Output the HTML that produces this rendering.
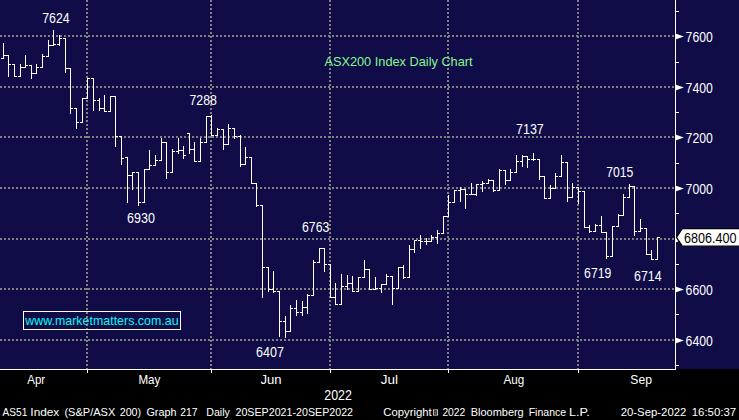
<!DOCTYPE html>
<html><head><meta charset="utf-8"><title>ASX200 Index Daily Chart</title>
<style>
html,body{margin:0;padding:0;background:#000;}
body{width:739px;height:420px;overflow:hidden;position:relative;font-family:"Liberation Sans",sans-serif;}
svg{position:absolute;left:0;top:0;display:block;}
text{font-family:"Liberation Sans",sans-serif;fill:#fff;}
.ax{font-size:14px;}
.mo{font-size:13.5px;}
.ft{font-size:11.6px;}
.ti{font-size:13px;}
.wm{font-size:12.6px;}
.cp{font-size:8.5px;}
</style></head><body>
<svg width="739" height="420" viewBox="0 0 739 420">
<rect x="0" y="0" width="739" height="420" fill="#000"/>
<rect x="0" y="0" width="739" height="369" fill="#0f0c48"/>
<g stroke="#82807e" stroke-width="2" stroke-dasharray="2 2" shape-rendering="crispEdges"><line x1="0" y1="36" x2="675" y2="36"/><line x1="0" y1="87" x2="675" y2="87"/><line x1="0" y1="137" x2="675" y2="137"/><line x1="0" y1="188" x2="675" y2="188"/><line x1="0" y1="239" x2="675" y2="239"/><line x1="0" y1="289" x2="675" y2="289"/><line x1="0" y1="340" x2="675" y2="340"/><line x1="87" y1="0" x2="87" y2="369"/><line x1="211" y1="0" x2="211" y2="369"/><line x1="330" y1="0" x2="330" y2="369"/><line x1="448" y1="0" x2="448" y2="369"/><line x1="578" y1="0" x2="578" y2="369"/></g>
<g fill="#fff" shape-rendering="crispEdges"><rect x="675" y="0" width="1" height="370"/><rect x="0" y="369" width="676" height="1"/><rect x="87" y="370" width="1" height="3"/><rect x="211" y="370" width="1" height="3"/><rect x="330" y="370" width="1" height="3"/><rect x="448" y="370" width="1" height="3"/><rect x="578" y="370" width="1" height="3"/><rect x="676" y="11" width="3" height="1"/><rect x="676" y="62" width="3" height="1"/><rect x="676" y="112" width="3" height="1"/><rect x="676" y="163" width="3" height="1"/><rect x="676" y="213" width="3" height="1"/><rect x="676" y="264" width="3" height="1"/><rect x="676" y="314" width="3" height="1"/><rect x="676" y="365" width="3" height="1"/></g>
<g fill="#fff" shape-rendering="crispEdges"><rect x="3" y="43" width="1" height="16"/><rect x="4" y="55" width="2" height="1"/><rect x="1" y="58" width="2" height="1"/><rect x="8" y="55" width="1" height="22"/><rect x="9" y="64" width="2" height="1"/><rect x="6" y="55" width="2" height="1"/><rect x="14" y="64" width="1" height="13"/><rect x="15" y="76" width="2" height="1"/><rect x="12" y="64" width="2" height="1"/><rect x="20" y="64" width="1" height="13"/><rect x="21" y="67" width="2" height="1"/><rect x="18" y="76" width="2" height="1"/><rect x="25" y="55" width="1" height="13"/><rect x="26" y="65" width="2" height="1"/><rect x="23" y="67" width="2" height="1"/><rect x="31" y="65" width="1" height="14"/><rect x="32" y="73" width="2" height="1"/><rect x="29" y="65" width="2" height="1"/><rect x="36" y="64" width="1" height="10"/><rect x="37" y="67" width="2" height="1"/><rect x="34" y="73" width="2" height="1"/><rect x="42" y="54" width="1" height="14"/><rect x="43" y="56" width="2" height="1"/><rect x="40" y="67" width="2" height="1"/><rect x="48" y="40" width="1" height="17"/><rect x="49" y="45" width="2" height="1"/><rect x="46" y="56" width="2" height="1"/><rect x="53" y="30" width="1" height="16"/><rect x="54" y="44" width="2" height="1"/><rect x="51" y="45" width="2" height="1"/><rect x="59" y="35" width="1" height="11"/><rect x="60" y="38" width="2" height="1"/><rect x="57" y="44" width="2" height="1"/><rect x="65" y="38" width="1" height="35"/><rect x="66" y="68" width="2" height="1"/><rect x="63" y="38" width="2" height="1"/><rect x="70" y="68" width="1" height="46"/><rect x="71" y="108" width="2" height="1"/><rect x="68" y="68" width="2" height="1"/><rect x="76" y="108" width="1" height="21"/><rect x="77" y="122" width="2" height="1"/><rect x="74" y="108" width="2" height="1"/><rect x="82" y="98" width="1" height="25"/><rect x="83" y="98" width="2" height="1"/><rect x="80" y="122" width="2" height="1"/><rect x="87" y="78" width="1" height="21"/><rect x="88" y="78" width="2" height="1"/><rect x="85" y="98" width="2" height="1"/><rect x="93" y="78" width="1" height="33"/><rect x="94" y="100" width="2" height="1"/><rect x="91" y="78" width="2" height="1"/><rect x="99" y="98" width="1" height="13"/><rect x="100" y="108" width="2" height="1"/><rect x="97" y="100" width="2" height="1"/><rect x="104" y="95" width="1" height="17"/><rect x="105" y="111" width="2" height="1"/><rect x="102" y="108" width="2" height="1"/><rect x="110" y="96" width="1" height="16"/><rect x="111" y="96" width="2" height="1"/><rect x="108" y="111" width="2" height="1"/><rect x="115" y="96" width="1" height="51"/><rect x="116" y="136" width="2" height="1"/><rect x="113" y="96" width="2" height="1"/><rect x="121" y="136" width="1" height="29"/><rect x="122" y="158" width="2" height="1"/><rect x="119" y="136" width="2" height="1"/><rect x="127" y="157" width="1" height="46"/><rect x="128" y="175" width="2" height="1"/><rect x="125" y="157" width="2" height="1"/><rect x="132" y="172" width="1" height="18"/><rect x="133" y="172" width="2" height="1"/><rect x="130" y="175" width="2" height="1"/><rect x="138" y="172" width="1" height="34"/><rect x="139" y="202" width="2" height="1"/><rect x="136" y="172" width="2" height="1"/><rect x="144" y="169" width="1" height="34"/><rect x="145" y="169" width="2" height="1"/><rect x="142" y="202" width="2" height="1"/><rect x="149" y="150" width="1" height="20"/><rect x="150" y="165" width="2" height="1"/><rect x="147" y="169" width="2" height="1"/><rect x="155" y="155" width="1" height="11"/><rect x="156" y="160" width="2" height="1"/><rect x="153" y="165" width="2" height="1"/><rect x="161" y="138" width="1" height="23"/><rect x="162" y="142" width="2" height="1"/><rect x="159" y="160" width="2" height="1"/><rect x="166" y="142" width="1" height="37"/><rect x="167" y="172" width="2" height="1"/><rect x="164" y="142" width="2" height="1"/><rect x="172" y="149" width="1" height="24"/><rect x="173" y="151" width="2" height="1"/><rect x="170" y="172" width="2" height="1"/><rect x="178" y="138" width="1" height="16"/><rect x="179" y="150" width="2" height="1"/><rect x="176" y="151" width="2" height="1"/><rect x="183" y="146" width="1" height="13"/><rect x="184" y="155" width="2" height="1"/><rect x="181" y="150" width="2" height="1"/><rect x="189" y="133" width="1" height="21"/><rect x="190" y="149" width="2" height="1"/><rect x="187" y="133" width="2" height="1"/><rect x="194" y="142" width="1" height="20"/><rect x="195" y="161" width="2" height="1"/><rect x="192" y="149" width="2" height="1"/><rect x="200" y="138" width="1" height="24"/><rect x="201" y="142" width="2" height="1"/><rect x="198" y="161" width="2" height="1"/><rect x="206" y="116" width="1" height="27"/><rect x="207" y="116" width="2" height="1"/><rect x="204" y="142" width="2" height="1"/><rect x="211" y="115" width="1" height="21"/><rect x="212" y="135" width="2" height="1"/><rect x="209" y="116" width="2" height="1"/><rect x="217" y="128" width="1" height="8"/><rect x="218" y="129" width="2" height="1"/><rect x="215" y="135" width="2" height="1"/><rect x="223" y="129" width="1" height="21"/><rect x="224" y="144" width="2" height="1"/><rect x="221" y="129" width="2" height="1"/><rect x="228" y="124" width="1" height="21"/><rect x="229" y="128" width="2" height="1"/><rect x="226" y="144" width="2" height="1"/><rect x="234" y="128" width="1" height="11"/><rect x="235" y="136" width="2" height="1"/><rect x="232" y="128" width="2" height="1"/><rect x="240" y="135" width="1" height="32"/><rect x="241" y="164" width="2" height="1"/><rect x="238" y="136" width="2" height="1"/><rect x="245" y="147" width="1" height="18"/><rect x="246" y="157" width="2" height="1"/><rect x="243" y="164" width="2" height="1"/><rect x="251" y="157" width="1" height="27"/><rect x="252" y="183" width="2" height="1"/><rect x="249" y="157" width="2" height="1"/><rect x="256" y="183" width="1" height="24"/><rect x="257" y="205" width="2" height="1"/><rect x="254" y="183" width="2" height="1"/><rect x="262" y="205" width="1" height="93"/><rect x="263" y="267" width="2" height="1"/><rect x="260" y="205" width="2" height="1"/><rect x="268" y="267" width="1" height="25"/><rect x="269" y="289" width="2" height="1"/><rect x="266" y="267" width="2" height="1"/><rect x="273" y="271" width="1" height="22"/><rect x="274" y="291" width="2" height="1"/><rect x="271" y="289" width="2" height="1"/><rect x="279" y="291" width="1" height="46"/><rect x="280" y="321" width="2" height="1"/><rect x="277" y="291" width="2" height="1"/><rect x="285" y="316" width="1" height="22"/><rect x="286" y="331" width="2" height="1"/><rect x="283" y="321" width="2" height="1"/><rect x="290" y="305" width="1" height="27"/><rect x="291" y="308" width="2" height="1"/><rect x="288" y="331" width="2" height="1"/><rect x="296" y="300" width="1" height="16"/><rect x="297" y="312" width="2" height="1"/><rect x="294" y="308" width="2" height="1"/><rect x="302" y="301" width="1" height="15"/><rect x="303" y="307" width="2" height="1"/><rect x="300" y="312" width="2" height="1"/><rect x="307" y="294" width="1" height="20"/><rect x="308" y="295" width="2" height="1"/><rect x="305" y="307" width="2" height="1"/><rect x="313" y="260" width="1" height="36"/><rect x="314" y="262" width="2" height="1"/><rect x="311" y="295" width="2" height="1"/><rect x="319" y="248" width="1" height="15"/><rect x="320" y="248" width="2" height="1"/><rect x="317" y="262" width="2" height="1"/><rect x="324" y="248" width="1" height="24"/><rect x="325" y="264" width="2" height="1"/><rect x="322" y="248" width="2" height="1"/><rect x="330" y="264" width="1" height="34"/><rect x="331" y="297" width="2" height="1"/><rect x="328" y="264" width="2" height="1"/><rect x="335" y="283" width="1" height="22"/><rect x="336" y="304" width="2" height="1"/><rect x="333" y="297" width="2" height="1"/><rect x="341" y="274" width="1" height="31"/><rect x="342" y="286" width="2" height="1"/><rect x="339" y="304" width="2" height="1"/><rect x="347" y="275" width="1" height="15"/><rect x="348" y="283" width="2" height="1"/><rect x="345" y="286" width="2" height="1"/><rect x="352" y="276" width="1" height="16"/><rect x="353" y="291" width="2" height="1"/><rect x="350" y="283" width="2" height="1"/><rect x="358" y="277" width="1" height="15"/><rect x="359" y="277" width="2" height="1"/><rect x="356" y="291" width="2" height="1"/><rect x="364" y="260" width="1" height="18"/><rect x="365" y="269" width="2" height="1"/><rect x="362" y="277" width="2" height="1"/><rect x="369" y="269" width="1" height="21"/><rect x="370" y="289" width="2" height="1"/><rect x="367" y="269" width="2" height="1"/><rect x="375" y="277" width="1" height="13"/><rect x="376" y="288" width="2" height="1"/><rect x="373" y="289" width="2" height="1"/><rect x="381" y="284" width="1" height="9"/><rect x="382" y="284" width="2" height="1"/><rect x="379" y="288" width="2" height="1"/><rect x="386" y="274" width="1" height="11"/><rect x="387" y="276" width="2" height="1"/><rect x="384" y="284" width="2" height="1"/><rect x="392" y="276" width="1" height="29"/><rect x="393" y="288" width="2" height="1"/><rect x="390" y="276" width="2" height="1"/><rect x="398" y="267" width="1" height="22"/><rect x="399" y="267" width="2" height="1"/><rect x="396" y="288" width="2" height="1"/><rect x="403" y="265" width="1" height="14"/><rect x="404" y="277" width="2" height="1"/><rect x="401" y="267" width="2" height="1"/><rect x="409" y="245" width="1" height="33"/><rect x="410" y="249" width="2" height="1"/><rect x="407" y="277" width="2" height="1"/><rect x="414" y="240" width="1" height="13"/><rect x="415" y="240" width="2" height="1"/><rect x="412" y="249" width="2" height="1"/><rect x="420" y="235" width="1" height="14"/><rect x="421" y="241" width="2" height="1"/><rect x="418" y="240" width="2" height="1"/><rect x="426" y="238" width="1" height="7"/><rect x="427" y="241" width="2" height="1"/><rect x="424" y="241" width="2" height="1"/><rect x="431" y="235" width="1" height="7"/><rect x="432" y="237" width="2" height="1"/><rect x="429" y="241" width="2" height="1"/><rect x="437" y="230" width="1" height="14"/><rect x="438" y="233" width="2" height="1"/><rect x="435" y="237" width="2" height="1"/><rect x="443" y="216" width="1" height="18"/><rect x="444" y="216" width="2" height="1"/><rect x="441" y="233" width="2" height="1"/><rect x="448" y="195" width="1" height="22"/><rect x="449" y="202" width="2" height="1"/><rect x="446" y="216" width="2" height="1"/><rect x="454" y="190" width="1" height="13"/><rect x="455" y="190" width="2" height="1"/><rect x="452" y="202" width="2" height="1"/><rect x="460" y="187" width="1" height="15"/><rect x="461" y="189" width="2" height="1"/><rect x="458" y="190" width="2" height="1"/><rect x="465" y="189" width="1" height="20"/><rect x="466" y="194" width="2" height="1"/><rect x="463" y="189" width="2" height="1"/><rect x="471" y="183" width="1" height="12"/><rect x="472" y="194" width="2" height="1"/><rect x="469" y="194" width="2" height="1"/><rect x="476" y="184" width="1" height="12"/><rect x="477" y="184" width="2" height="1"/><rect x="474" y="194" width="2" height="1"/><rect x="482" y="181" width="1" height="11"/><rect x="483" y="183" width="2" height="1"/><rect x="480" y="184" width="2" height="1"/><rect x="488" y="179" width="1" height="5"/><rect x="489" y="180" width="2" height="1"/><rect x="486" y="183" width="2" height="1"/><rect x="493" y="180" width="1" height="12"/><rect x="494" y="190" width="2" height="1"/><rect x="491" y="180" width="2" height="1"/><rect x="499" y="169" width="1" height="22"/><rect x="500" y="170" width="2" height="1"/><rect x="497" y="190" width="2" height="1"/><rect x="505" y="170" width="1" height="15"/><rect x="506" y="180" width="2" height="1"/><rect x="503" y="170" width="2" height="1"/><rect x="510" y="169" width="1" height="12"/><rect x="511" y="172" width="2" height="1"/><rect x="508" y="180" width="2" height="1"/><rect x="516" y="155" width="1" height="18"/><rect x="517" y="161" width="2" height="1"/><rect x="514" y="172" width="2" height="1"/><rect x="522" y="155" width="1" height="12"/><rect x="523" y="156" width="2" height="1"/><rect x="520" y="161" width="2" height="1"/><rect x="527" y="156" width="1" height="12"/><rect x="528" y="159" width="2" height="1"/><rect x="525" y="156" width="2" height="1"/><rect x="533" y="153" width="1" height="8"/><rect x="534" y="159" width="2" height="1"/><rect x="531" y="159" width="2" height="1"/><rect x="539" y="159" width="1" height="21"/><rect x="540" y="176" width="2" height="1"/><rect x="537" y="159" width="2" height="1"/><rect x="544" y="176" width="1" height="23"/><rect x="545" y="198" width="2" height="1"/><rect x="542" y="176" width="2" height="1"/><rect x="550" y="185" width="1" height="14"/><rect x="551" y="188" width="2" height="1"/><rect x="548" y="198" width="2" height="1"/><rect x="555" y="173" width="1" height="16"/><rect x="556" y="176" width="2" height="1"/><rect x="553" y="188" width="2" height="1"/><rect x="561" y="155" width="1" height="22"/><rect x="562" y="162" width="2" height="1"/><rect x="559" y="176" width="2" height="1"/><rect x="567" y="162" width="1" height="40"/><rect x="568" y="197" width="2" height="1"/><rect x="565" y="162" width="2" height="1"/><rect x="572" y="183" width="1" height="15"/><rect x="573" y="187" width="2" height="1"/><rect x="570" y="197" width="2" height="1"/><rect x="578" y="187" width="1" height="17"/><rect x="579" y="191" width="2" height="1"/><rect x="576" y="187" width="2" height="1"/><rect x="584" y="191" width="1" height="37"/><rect x="585" y="227" width="2" height="1"/><rect x="582" y="191" width="2" height="1"/><rect x="589" y="225" width="1" height="8"/><rect x="590" y="231" width="2" height="1"/><rect x="587" y="227" width="2" height="1"/><rect x="595" y="224" width="1" height="8"/><rect x="596" y="225" width="2" height="1"/><rect x="593" y="231" width="2" height="1"/><rect x="601" y="216" width="1" height="17"/><rect x="602" y="232" width="2" height="1"/><rect x="599" y="225" width="2" height="1"/><rect x="606" y="232" width="1" height="27"/><rect x="607" y="256" width="2" height="1"/><rect x="604" y="232" width="2" height="1"/><rect x="612" y="226" width="1" height="31"/><rect x="613" y="226" width="2" height="1"/><rect x="610" y="256" width="2" height="1"/><rect x="618" y="214" width="1" height="13"/><rect x="619" y="215" width="2" height="1"/><rect x="616" y="226" width="2" height="1"/><rect x="623" y="194" width="1" height="22"/><rect x="624" y="197" width="2" height="1"/><rect x="621" y="215" width="2" height="1"/><rect x="629" y="184" width="1" height="14"/><rect x="630" y="186" width="2" height="1"/><rect x="627" y="197" width="2" height="1"/><rect x="634" y="186" width="1" height="50"/><rect x="635" y="231" width="2" height="1"/><rect x="632" y="186" width="2" height="1"/><rect x="640" y="219" width="1" height="13"/><rect x="641" y="228" width="2" height="1"/><rect x="638" y="231" width="2" height="1"/><rect x="646" y="228" width="1" height="27"/><rect x="647" y="254" width="2" height="1"/><rect x="644" y="228" width="2" height="1"/><rect x="651" y="250" width="1" height="10"/><rect x="652" y="259" width="2" height="1"/><rect x="649" y="254" width="2" height="1"/><rect x="657" y="237" width="1" height="23"/><rect x="658" y="237" width="2" height="1"/><rect x="655" y="259" width="2" height="1"/></g>
<g fill="#fff"><polygon points="675.5,236.6 683.8,239.5 675.5,242.4"/><polygon points="675.5,33.6 683.8,36.5 675.5,39.4"/><polygon points="675.5,84.6 683.8,87.5 675.5,90.4"/><polygon points="675.5,134.6 683.8,137.5 675.5,140.4"/><polygon points="675.5,185.6 683.8,188.5 675.5,191.4"/><polygon points="675.5,286.6 683.8,289.5 675.5,292.4"/><polygon points="675.5,337.6 683.8,340.5 675.5,343.4"/></g>
<text x="685.60" y="41.70" class="ax" textLength="27.21" lengthAdjust="spacingAndGlyphs">7600</text><text x="685.60" y="92.70" class="ax" textLength="27.21" lengthAdjust="spacingAndGlyphs">7400</text><text x="685.60" y="142.70" class="ax" textLength="27.21" lengthAdjust="spacingAndGlyphs">7200</text><text x="685.60" y="193.70" class="ax" textLength="27.21" lengthAdjust="spacingAndGlyphs">7000</text><text x="685.60" y="294.70" class="ax" textLength="27.21" lengthAdjust="spacingAndGlyphs">6600</text><text x="685.60" y="345.70" class="ax" textLength="27.21" lengthAdjust="spacingAndGlyphs">6400</text>
<polygon points="676.5,237.4 682.3,228.6 741,228.6 741,246.2 682.3,246.2" fill="#fff" stroke="#000" stroke-width="1.2"/><text x="684.10" y="242.90" class="ax" style="fill:#000" textLength="52.41" lengthAdjust="spacingAndGlyphs">6806.400</text>
<text x="42.20" y="22.90" class="ax" textLength="27.51" lengthAdjust="spacingAndGlyphs">7624</text><text x="189.50" y="104.90" class="ax" textLength="27.41" lengthAdjust="spacingAndGlyphs">7288</text><text x="127.10" y="222.90" class="ax" textLength="27.81" lengthAdjust="spacingAndGlyphs">6930</text><text x="302.00" y="232.00" class="ax" textLength="27.31" lengthAdjust="spacingAndGlyphs">6763</text><text x="256.10" y="357.00" class="ax" textLength="27.91" lengthAdjust="spacingAndGlyphs">6407</text><text x="516.00" y="134.00" class="ax" textLength="27.81" lengthAdjust="spacingAndGlyphs">7137</text><text x="606.20" y="176.90" class="ax" textLength="27.11" lengthAdjust="spacingAndGlyphs">7015</text><text x="584.10" y="278.10" class="ax" textLength="27.21" lengthAdjust="spacingAndGlyphs">6719</text><text x="634.00" y="281.20" class="ax" textLength="27.61" lengthAdjust="spacingAndGlyphs">6714</text>
<text x="324.40" y="65.70" class="ti" style="fill:#86f78e" textLength="148.22" lengthAdjust="spacingAndGlyphs">ASX200 Index Daily Chart</text>
<rect x="23.5" y="311.5" width="157" height="18" fill="none" stroke="#fff" stroke-width="1" shape-rendering="crispEdges"/>
<text x="25.29" y="324.80" class="wm" style="fill:#08f8f8" textLength="153.32" lengthAdjust="spacingAndGlyphs">www.marketmatters.com.au</text>
<text x="27.30" y="384.10" class="mo" textLength="17.87" lengthAdjust="spacingAndGlyphs">Apr</text><text x="138.44" y="384.10" class="mo" textLength="21.95" lengthAdjust="spacingAndGlyphs">May</text><text x="260.40" y="384.10" class="mo" textLength="21.09" lengthAdjust="spacingAndGlyphs">Jun</text><text x="380.80" y="384.10" class="mo" textLength="17.20" lengthAdjust="spacingAndGlyphs">Jul</text><text x="503.40" y="384.10" class="mo" textLength="20.74" lengthAdjust="spacingAndGlyphs">Aug</text><text x="630.30" y="384.10" class="mo" textLength="21.66" lengthAdjust="spacingAndGlyphs">Sep</text><text x="324.30" y="400.40" class="ax" textLength="27.61" lengthAdjust="spacingAndGlyphs">2022</text>
<text x="2.50" y="415.50" class="ft" textLength="24.89" lengthAdjust="spacingAndGlyphs">AS51</text><text x="30.38" y="415.50" class="ft" textLength="28.91" lengthAdjust="spacingAndGlyphs">Index</text><text x="64.40" y="415.50" class="ft" textLength="50.95" lengthAdjust="spacingAndGlyphs">(S&amp;P/ASX</text><text x="119.70" y="415.50" class="ft" textLength="21.47" lengthAdjust="spacingAndGlyphs">200)</text><text x="146.40" y="415.50" class="ft" textLength="30.02" lengthAdjust="spacingAndGlyphs">Graph</text><text x="180.30" y="415.50" class="ft" textLength="17.30" lengthAdjust="spacingAndGlyphs">217</text><text x="206.30" y="415.50" class="ft" textLength="23.61" lengthAdjust="spacingAndGlyphs">Daily</text><text x="235.50" y="415.50" class="ft" textLength="117.51" lengthAdjust="spacingAndGlyphs">20SEP2021-20SEP2022</text><text x="383.30" y="415.50" class="ft" textLength="48.34" lengthAdjust="spacingAndGlyphs">Copyright</text><text x="442.40" y="415.50" class="ft" textLength="22.90" lengthAdjust="spacingAndGlyphs">2022</text><text x="470.80" y="415.50" class="ft" textLength="52.92" lengthAdjust="spacingAndGlyphs">Bloomberg</text><text x="528.70" y="415.50" class="ft" textLength="37.41" lengthAdjust="spacingAndGlyphs">Finance</text><text x="569.00" y="415.50" class="ft" textLength="20.84" lengthAdjust="spacingAndGlyphs">L.P.</text><text x="620.70" y="415.50" class="ft" textLength="65.64" lengthAdjust="spacingAndGlyphs">20-Sep-2022</text><text x="691.70" y="415.50" class="ft" textLength="44.54" lengthAdjust="spacingAndGlyphs">16:50:37</text><rect x="433.4" y="409.9" width="4.2" height="5.2" fill="none" stroke="#ddd" stroke-width="0.9"/><rect x="434.6" y="411.6" width="2.2" height="1.9" fill="#bbb"/><rect x="435.6" y="412.2" width="1.4" height="0.8" fill="#000"/>
</svg>
</body></html>
